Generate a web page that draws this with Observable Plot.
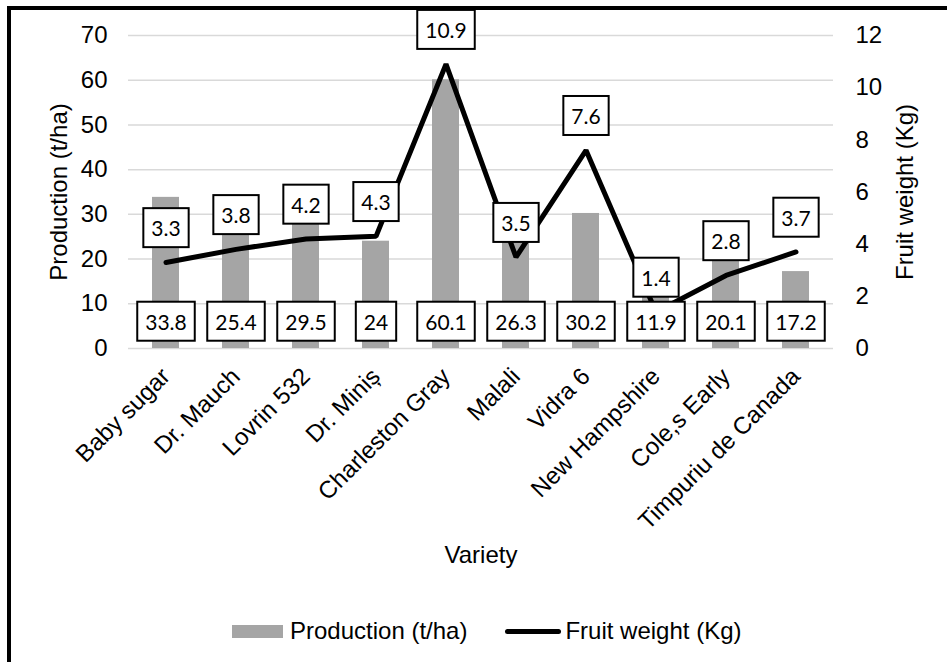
<!DOCTYPE html>
<html>
<head>
<meta charset="utf-8">
<script src="https://cdn.jsdelivr.net/npm/d3@7"></script>
<script src="https://cdn.jsdelivr.net/npm/@observablehq/plot@0.6"></script>
<style>
  html, body { margin: 0; padding: 0; background: #fff; overflow: hidden; }
  #wrap { position: relative; width: 947px; height: 662px; background: #fff; overflow: hidden; }
  #frame { position: absolute; left: 7px; top: 6px; width: 1000px; height: 700px; border-left: 4px solid #000; border-top: 4px solid #000; box-sizing: border-box; }
  #chart { position: absolute; left: 0; top: 0; }
  #legend { position: absolute; left: 232px; top: 616px; height: 30px; display: flex; align-items: center; font-family: "Liberation Sans", Arial, sans-serif; font-size: 24px; color: #000; white-space: nowrap; }
  .sw-bar { display: inline-block; width: 51px; height: 13px; background: #a5a5a5; margin-right: 7px; }
  .sw-line { display: inline-block; width: 56px; height: 5px; background: #000; border-radius: 3px; margin-left: 38px; margin-right: 4px; }
  #chart svg g[aria-label="y-axis tick label"] text { font-size: 24px; }
  #chart svg g[aria-label="x-axis tick label"] text { font-size: 24px; }
</style>
</head>
<body>
<div id="wrap">
  <div id="frame"></div>
  <div id="chart"></div>
  <div id="legend"><span class="sw-bar"></span><span>Production (t/ha)</span><span class="sw-line"></span><span>Fruit weight (Kg)</span></div>
</div>
<script>
const varieties = ["Baby sugar", "Dr. Mauch", "Lovrin 532", "Dr. Miniș", "Charleston Gray", "Malali", "Vidra 6", "New Hampshire", "Cole,s Early", "Timpuriu de Canada"];
const production = [33.8, 25.4, 29.5, 24, 60.1, 26.3, 30.2, 11.9, 20.1, 17.2];
const fruitWeight = [3.3, 3.8, 4.2, 4.3, 10.9, 3.5, 7.6, 1.4, 2.8, 3.7];
const leftTicks = [0, 10, 20, 30, 40, 50, 60, 70];
const rightTicks = [0, 2, 4, 6, 8, 10, 12];
const leftMax = 70, rightMax = 12;
const k = leftMax / rightMax;

const data = varieties.map((v, i) => ({variety: v, prod: production[i], kg: fruitWeight[i], kgScaled: fruitWeight[i] * k}));

const labelFont = "Lato, 'Open Sans', sans-serif";
const axisFont = "'Liberation Sans', Arial, sans-serif";

const chart = Plot.plot({
  width: 947,
  height: 600,
  marginTop: 35,
  marginBottom: 252,
  marginLeft: 128,
  marginRight: 114,
  style: {fontFamily: axisFont, fontSize: "24px", color: "#000", background: "transparent", overflow: "visible"},
  x: {domain: varieties, paddingInner: 0.61, paddingOuter: 0.305},
  y: {domain: [0, leftMax]},
  marks: [
    Plot.ruleY(leftTicks, {stroke: "#d9d9d9", strokeWidth: 1.5}),
    Plot.barY(data, {x: "variety", y: "prod", fill: "#a5a5a5"}),
    Plot.line(data, {x: "variety", y: "kgScaled", stroke: "#000", strokeWidth: 5, strokeLinecap: "round", strokeLinejoin: "miter"}),
    Plot.axisY({anchor: "left", ticks: leftTicks, tickSize: 0, tickPadding: 21, label: null, fontSize: 24}),
    Plot.axisY({anchor: "right", ticks: rightTicks.map(t => t * k), tickFormat: d => String(Math.round(d / k)), tickSize: 0, tickPadding: 22, label: null, fontSize: 24}),
    Plot.axisX({tickRotate: -45, tickSize: 0, tickPadding: 24, label: null, fontSize: 24}),
    Plot.text(["Production (t/ha)"], {frameAnchor: "left", textAnchor: "middle", rotate: -90, dx: -69, fontSize: 24, fontFamily: axisFont}),
    Plot.text(["Fruit weight (Kg)"], {frameAnchor: "right", textAnchor: "middle", rotate: -90, dx: 72, fontSize: 24, fontFamily: axisFont}),
    Plot.text(["Variety"], {frameAnchor: "bottom", dy: 214, fontSize: 24, fontFamily: axisFont}),
    Plot.text(data, {x: "variety", y: () => 0, text: d => String(d.prod), dy: -25.5, fontSize: 21, fontFamily: labelFont, fill: "#000", ariaDescription: "boxlab"}),
    Plot.text(data, {x: "variety", y: "kgScaled", text: d => String(d.kg), dy: -33, fontSize: 21, fontFamily: labelFont, fill: "#000", ariaDescription: "boxlab"})
  ]
});

document.getElementById("chart").appendChild(chart);

// Add white bordered boxes behind the data label texts
const padX = 8, padY = 7;
chart.querySelectorAll('g[aria-description="boxlab"] text').forEach(t => {
  const bb = t.getBBox();
  const r = document.createElementNS("http://www.w3.org/2000/svg", "rect");
  r.setAttribute("x", bb.x - padX);
  r.setAttribute("y", bb.y - padY);
  r.setAttribute("width", bb.width + 2 * padX);
  r.setAttribute("height", bb.height + 2 * padY);
  r.setAttribute("fill", "#fff");
  r.setAttribute("stroke", "#000");
  r.setAttribute("stroke-width", 2);
  if (t.getAttribute("transform")) r.setAttribute("transform", t.getAttribute("transform"));
  t.parentNode.insertBefore(r, t);
});
</script>
</body>
</html>
